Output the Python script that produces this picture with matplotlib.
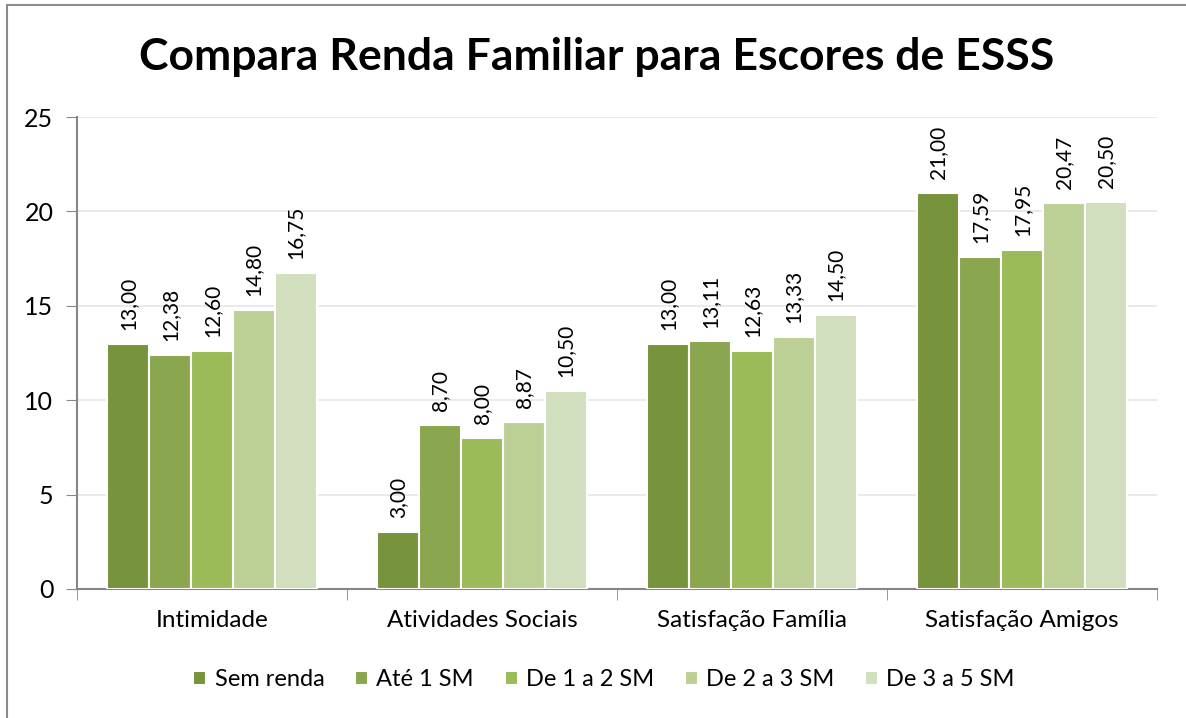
import numpy as np
import matplotlib.pyplot as plt
from matplotlib.patches import Rectangle

plt.rcParams['font.family'] = ['Lato', 'DejaVu Sans']

categorias = ["Intimidade", "Atividades Sociais", "Satisfação Família", "Satisfação Amigos"]
faixas = ["Sem renda", "Até 1 SM", "De 1 a 2 SM", "De 2 a 3 SM", "De 3 a 5 SM"]
sem_renda = [13.00, 3.00, 13.00, 21.00]
ate_1 = [12.38, 8.70, 13.11, 17.59]
de_1_2 = [12.60, 8.00, 12.63, 17.95]
de_2_3 = [14.80, 8.87, 13.33, 20.47]
de_3_5 = [16.75, 10.50, 14.50, 20.50]
series = [sem_renda, ate_1, de_1_2, de_2_3, de_3_5]
cores = ["#77933C", "#8AA64E", "#9BBB59", "#BCD096", "#D1DFBE"]

W, H = 1186, 718
fig = plt.figure(figsize=(W / 100, H / 100), dpi=100)
ax = fig.add_axes([77 / W, 1 - 589 / H, (1157 - 77) / W, (589 - 117) / H])

# moldura do gráfico
fig.patches.append(Rectangle((7 / W, -0.1), 1.2, 1 - 5 / H + 0.1,
                             transform=fig.transFigure, fill=False,
                             edgecolor="#8C8C8C", linewidth=1.5))

x = np.arange(len(categorias))
larg = 0.155
for i, (vals, cor) in enumerate(zip(series, cores)):
    pos = x + (i - 2) * larg
    ax.bar(pos, vals, width=larg, color=cor, edgecolor="white",
           linewidth=1.5, label=faixas[i], zorder=3)
    for px, v in zip(pos, vals):
        ax.annotate(f"{v:.2f}".replace(".", ","), (px, v), xytext=(0, 10),
                    textcoords="offset points", rotation=90,
                    ha="center", va="bottom", fontsize=15)

ax.set_xlim(-0.5, len(categorias) - 0.5)
ax.set_ylim(0, 25)
ax.set_yticks(range(0, 26, 5))
ax.set_xticks(x)
ax.set_xticklabels(categorias, fontsize=17.5)
ax.set_xticks(np.arange(-0.5, len(categorias)), minor=True)
ax.tick_params(axis="x", which="major", length=0, pad=15)
ax.tick_params(axis="x", which="minor", length=8, color="#868686")
ax.tick_params(axis="y", length=8, color="#868686", labelsize=18, pad=9)
ax.grid(axis="y", color="#E6E6E6", linewidth=1.2, zorder=0)
for s in ["top", "right"]:
    ax.spines[s].set_visible(False)
for s in ["left", "bottom"]:
    ax.spines[s].set_color("#868686")
    ax.spines[s].set_linewidth(1.5)

fig.text(597 / W, 1 - 57 / H, "Compara Renda Familiar para Escores de ESSS",
         ha="center", va="center", fontsize=32, fontweight="bold")

fig.legend(loc="center", bbox_to_anchor=(604 / W, 1 - 680 / H), ncol=5,
           frameon=False, fontsize=17, handlelength=0.55, handleheight=0.55,
           handletextpad=0.35, columnspacing=1.3)

fig.savefig("out.png", dpi=100)
